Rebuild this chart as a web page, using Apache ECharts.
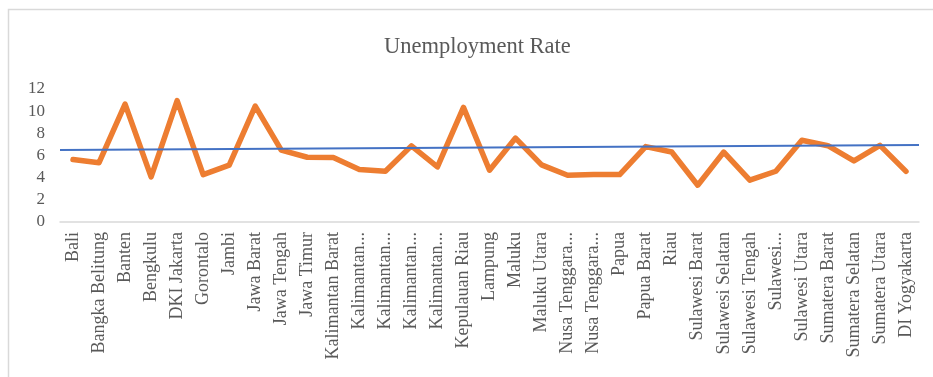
<!DOCTYPE html>
<html>
<head>
<meta charset="utf-8">
<script src="https://cdn.jsdelivr.net/npm/echarts@6/dist/echarts.min.js"></script>
<style>
html,body{margin:0;padding:0;background:#fff;}
#chart{width:933px;height:377px;}
</style>
</head>
<body>
<div id="chart"></div>
<script>
const categories = ["Bali","Bangka Belitung","Banten","Bengkulu","DKI Jakarta","Gorontalo","Jambi","Jawa Barat","Jawa Tengah","Jawa Timur","Kalimantan Barat","Kalimantan Selatan","Kalimantan Tengah","Kalimantan Timur","Kalimantan Utara","Kepulauan Riau","Lampung","Maluku","Maluku Utara","Nusa Tenggara Barat","Nusa Tenggara Timur","Papua","Papua Barat","Riau","Sulawesi Barat","Sulawesi Selatan","Sulawesi Tengah","Sulawesi Tenggara","Sulawesi Utara","Sumatera Barat","Sumatera Selatan","Sumatera Utara","DI Yogyakarta"];
const tickLabels = ["Bali","Bangka Belitung","Banten","Bengkulu","DKI Jakarta","Gorontalo","Jambi","Jawa Barat","Jawa Tengah","Jawa Timur","Kalimantan Barat","Kalimantan...","Kalimantan...","Kalimantan...","Kalimantan...","Kepulauan Riau","Lampung","Maluku","Maluku Utara","Nusa Tenggara...","Nusa Tenggara...","Papua","Papua Barat","Riau","Sulawesi Barat","Sulawesi Selatan","Sulawesi Tengah","Sulawesi...","Sulawesi Utara","Sumatera Barat","Sumatera Selatan","Sumatera Utara","DI Yogyakarta"];
const unemploymentRate = [5.63,5.35,10.64,4.07,10.95,4.28,5.13,10.46,6.48,5.84,5.81,4.74,4.58,6.87,4.97,10.34,4.67,7.57,5.15,4.22,4.28,4.28,6.80,6.32,3.32,6.31,3.77,4.58,7.37,6.88,5.51,6.91,4.57];
const trendStart = 6.5;
const trendEnd = 6.95;
const yTicks = [0,2,4,6,8,10,12];

const font = "'Liberation Serif', 'Times New Roman', serif";
const txt = '#595959';
const chart = echarts.init(document.getElementById('chart'));
const n = categories.length;
chart.setOption({
  animation: false,
  backgroundColor: '#fff',
  title: {
    text: 'Unemployment Rate',
    left: 379,
    top: 31,
    textStyle: {fontFamily: font, fontSize: 22.5, fontWeight: 'normal', color: txt}
  },
  graphic: [{
    type: 'rect',
    shape: {x: 8.5, y: 9.5, width: 1000, height: 500},
    style: {fill: 'none', stroke: '#D9D9D9', lineWidth: 1.5},
    silent: true, z: -1
  }],
  grid: {left: 60, right: 14, top: 89, bottom: 155},
  xAxis: [{
    type: 'category',
    data: categories,
    boundaryGap: true,
    axisLine: {lineStyle: {color: '#D9D9D9', width: 1.5}},
    axisTick: {show: false},
    axisLabel: {
      interval: 0, rotate: 90, margin: 10,
      fontFamily: font, fontSize: 18, color: txt,
      formatter: (v, i) => tickLabels[i]
    }
  }, {
    type: 'value', min: -0.5, max: n - 0.5, show: false
  }],
  yAxis: {
    type: 'value', min: yTicks[0], max: yTicks[yTicks.length-1], interval: 2,
    axisLine: {show: false}, axisTick: {show: false},
    splitLine: {show: false},
    axisLabel: {fontFamily: font, fontSize: 17, color: txt, margin: 15}
  },
  series: [{
    type: 'line',
    data: unemploymentRate,
    symbol: 'none',
    lineStyle: {color: '#ED7D31', width: 5.5, join: 'round', cap: 'round'},
    z: 2
  }, {
    type: 'line',
    xAxisIndex: 1,
    data: [[-0.5, trendStart], [n - 0.5, trendEnd]],
    symbol: 'none',
    lineStyle: {color: '#4472C4', width: 2},
    z: 3
  }]
});
</script>
</body>
</html>
